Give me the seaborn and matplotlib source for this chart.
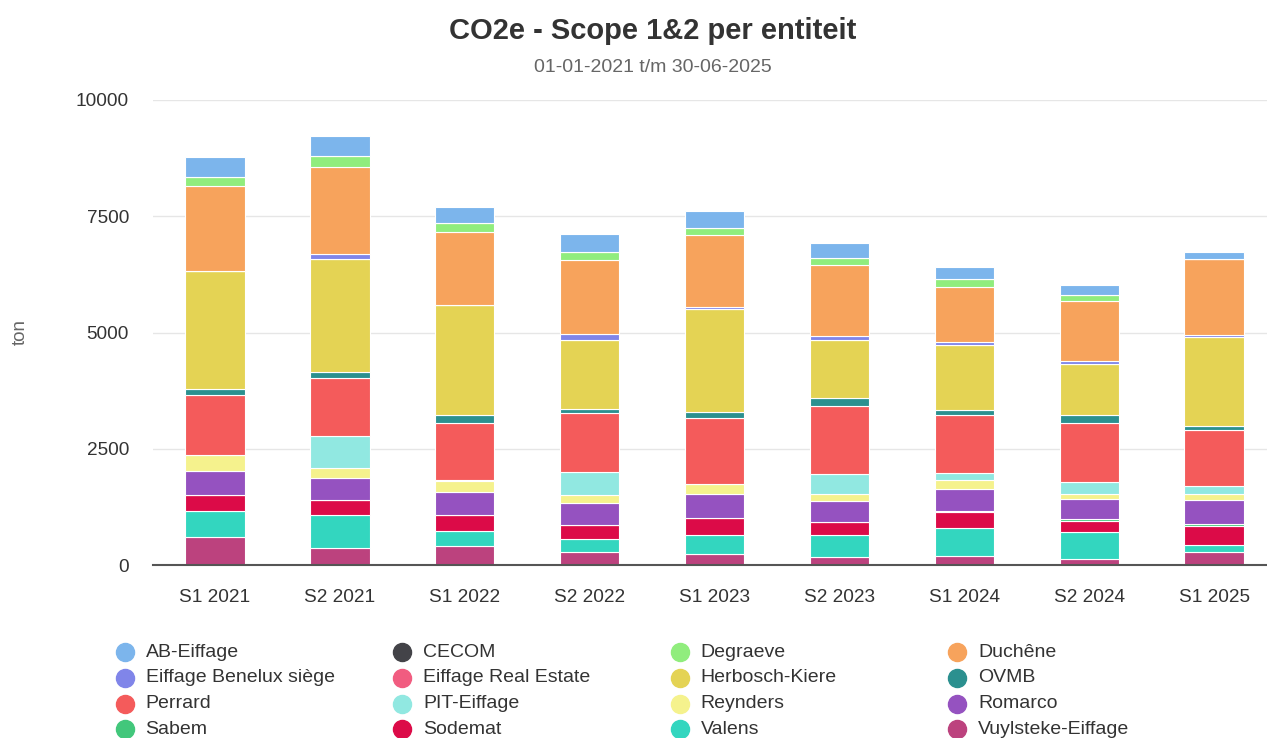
import numpy as np
import pandas as pd
import matplotlib
matplotlib.use("Agg")
import matplotlib.pyplot as plt
from matplotlib.lines import Line2D
import seaborn as sns

# Half-year periods on the x axis
periods = ["S1 2021", "S2 2021", "S1 2022", "S2 2022", "S1 2023",
           "S2 2023", "S1 2024", "S2 2024", "S1 2025"]

# Legend order (first one is stacked on top)
entities = ["AB-Eiffage", "CECOM", "Degraeve", "Duchêne",
            "Eiffage Benelux siège", "Eiffage Real Estate", "Herbosch-Kiere", "OVMB",
            "Perrard", "PIT-Eiffage", "Reynders", "Romarco",
            "Sabem", "Sodemat", "Valens", "Vuylsteke-Eiffage"]

colors = ["#7cb5ec", "#434348", "#90ed7d", "#f7a35c",
          "#8085e9", "#f15c80", "#e4d354", "#2b908f",
          "#f45b5b", "#91e8e1", "#f5f28d", "#9552c0",
          "#42c77b", "#dc0b48", "#33d6bf", "#bc427e"]

# ton CO2e per entity, per period
ab_eiffage = [425, 430, 350, 381, 352, 329, 252, 221, 147]
cecom = [0, 0, 0, 0, 0, 0, 0, 0, 0]
degraeve = [193, 243, 200, 172, 164, 146, 168, 129, 0]
duchene = [1828, 1871, 1564, 1591, 1542, 1531, 1193, 1290, 1646]
eiffage_benelux = [0, 118, 0, 123, 43, 76, 65, 65, 42]
eiffage_real_estate = [0, 0, 0, 0, 0, 0, 0, 0, 0]
herbosch_kiere = [2535, 2413, 2365, 1484, 2215, 1258, 1398, 1107, 1909]
ovmb = [130, 129, 166, 96, 122, 165, 103, 162, 91]
perrard = [1295, 1260, 1232, 1265, 1433, 1469, 1262, 1279, 1204]
pit_eiffage = [0, 678, 30, 495, 0, 430, 133, 243, 166]
reynders = [335, 219, 224, 172, 208, 161, 201, 116, 135]
romarco = [525, 473, 499, 468, 523, 435, 462, 420, 527]
sabem = [0, 0, 0, 0, 0, 0, 40, 43, 28]
sodemat = [345, 327, 344, 299, 365, 292, 330, 250, 409]
valens = [560, 699, 322, 297, 402, 467, 602, 574, 165]
vuylsteke = [600, 372, 409, 269, 237, 172, 200, 129, 269]

series = [ab_eiffage, cecom, degraeve, duchene, eiffage_benelux, eiffage_real_estate,
          herbosch_kiere, ovmb, perrard, pit_eiffage, reynders, romarco,
          sabem, sodemat, valens, vuylsteke]

rows = []
for name, vals in zip(entities, series):
    for i, v in enumerate(vals):
        rows.append({"pos": i, "entity": name, "ton": v})
df = pd.DataFrame(rows)

plt.rcParams["font.family"] = ["Liberation Sans", "DejaVu Sans"]

W, H = 1267, 738
fig = plt.figure(figsize=(W / 100, H / 100), dpi=100)
left, right, top, bottom = 152.5, W, 100, 565
ax = fig.add_axes([left / W, 1 - bottom / H, (right - left) / W, (bottom - top) / H])

sns.histplot(data=df, x="pos", hue="entity", weights="ton", hue_order=entities,
             palette=dict(zip(entities, colors)), multiple="stack", discrete=True,
             shrink=0.475, alpha=1, edgecolor="white", linewidth=0.8,
             legend=False, ax=ax)

ax.set_xlim(-0.5, -0.5 + (right - left) / 124.9)
ax.set_ylim(0, 10000)
ax.set_yticks([0, 2500, 5000, 7500, 10000])
ax.set_yticklabels(["0", "2500", "5000", "7500", "10000"])
ax.set_xticks(range(len(periods)))
ax.set_xticklabels(periods)
ax.tick_params(axis="both", length=0, labelsize=13.7, colors="#333333")
ax.tick_params(axis="y", pad=17)
ax.tick_params(axis="x", pad=17)
ax.set_xlabel("")
ax.set_ylabel("")
ax.set_axisbelow(True)
ax.yaxis.grid(True, color="#e6e6e6", linewidth=1)
for s in ["left", "right", "top"]:
    ax.spines[s].set_visible(False)
ax.spines["bottom"].set_color("#555555")
ax.spines["bottom"].set_linewidth(1.5)

# titles
cx = 653 / W
fig.text(cx, 1 - 31 / H, "CO2e - Scope 1&2 per entiteit", ha="center", va="center",
         fontsize=21, fontweight="bold", color="#333333")
fig.text(cx, 1 - 68 / H, "01-01-2021 t/m 30-06-2025", ha="center", va="center",
         fontsize=14, color="#666666")
fig.text(20 / W, 1 - 332 / H, "ton", rotation=90, ha="center", va="center",
         fontsize=13.5, color="#666666")

# legend, 4 columns
for i, (name, c) in enumerate(zip(entities, colors)):
    col, row = i % 4, i // 4
    xs = (124.6 + col * 277.6) / W
    ys = 1 - (652.3 + row * 25.6) / H
    fig.add_artist(Line2D([xs], [ys], marker="o", markersize=13, color=c,
                          linestyle="none", transform=fig.transFigure))
    fig.text(xs + 21 / W, ys, name, ha="left", va="center", fontsize=14,
             color="#333333")

fig.savefig("out.png", dpi=100)
